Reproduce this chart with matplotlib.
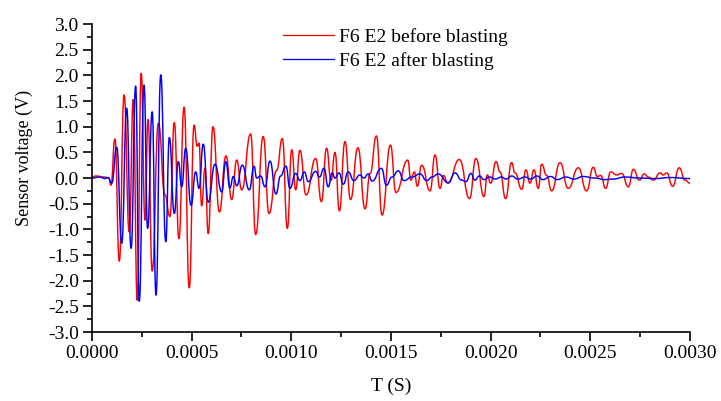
import matplotlib
matplotlib.use("Agg")
import matplotlib.pyplot as plt
from matplotlib.path import Path
from matplotlib.patches import PathPatch
from matplotlib.lines import Line2D
from matplotlib.ticker import MultipleLocator, FormatStrFormatter

plt.rcParams["font.family"] = ["Liberation Serif", "DejaVu Serif"]
plt.rcParams["axes.unicode_minus"] = False

# sensor F6 E2, before blasting (time in s, voltage in V) - turning points of the trace
t_before = [
    0.0, 0.00002, 0.00006, 0.000085, 0.000095, 0.000115, 0.000137, 0.000161,
    0.000187, 0.000207, 0.000227, 0.000247, 0.000266, 0.000281, 0.000302,
    0.000333, 0.000366, 0.000391, 0.000413, 0.000436, 0.000462, 0.000488,
    0.000512, 0.000528, 0.000537, 0.00055, 0.000567, 0.000583, 0.000607,
    0.000639, 0.000672, 0.000701, 0.000726, 0.000751, 0.000796, 0.000821,
    0.000859, 0.000888, 0.000926, 0.000955, 0.00098, 0.001002, 0.001022,
    0.001043, 0.001074, 0.001122, 0.001151, 0.001177, 0.001199, 0.001219,
    0.001241, 0.001269, 0.001297, 0.001334, 0.00137, 0.001395, 0.001427,
    0.001455, 0.001497, 0.001525, 0.001584, 0.0016, 0.001617, 0.001632,
    0.001654, 0.001696, 0.001721, 0.001746, 0.001763, 0.001785, 0.001843,
    0.001894, 0.001926, 0.001967, 0.001983, 0.002, 0.002027, 0.002047,
    0.002075, 0.002105, 0.002122, 0.002156, 0.002177, 0.002197, 0.002217,
    0.002239, 0.002256, 0.002281, 0.002306, 0.002348, 0.002389, 0.00244,
    0.002481, 0.002515, 0.002535, 0.002552, 0.002577, 0.002602, 0.002632,
    0.002657, 0.002691, 0.002716, 0.002746, 0.002771, 0.002791, 0.002816,
    0.00285, 0.002866, 0.002883, 0.002913, 0.002946, 0.002975, 0.003,
]
v_before = [
    0.02, 0.04, 0.02, 0.0, -0.14, 0.76, -1.62, 1.62,
    -1.05, 1.53, -2.38, 2.04, -0.82, 1.14, -1.81,
    1.07, -0.33, -0.75, 1.08, -1.18, 1.38, -2.14,
    1.03, 0.62, 0.68, -0.54, 0.19, -1.08, 1.0,
    -0.66, 0.43, -0.42, 0.35, -0.23, 0.86, -1.10,
    0.81, -0.69, 0.15, 0.77, -0.98, 0.55, -0.23,
    0.54, -0.33, 0.38, -0.46, 0.58, -0.05, 0.5,
    -0.64, 0.71, -0.42, 0.59, -0.6, 0.09, 0.82,
    -0.72, 0.64, -0.28, 0.35, -0.04, 0.12, -0.16,
    0.25, -0.25, 0.45, -0.2, 0.05, -0.1, 0.36,
    -0.40, 0.38, -0.36, 0.06, -0.1, 0.32, 0.12,
    -0.40, 0.30, 0.1, -0.22, 0.16, -0.1, 0.16,
    -0.2, 0.27, 0.05, -0.25, 0.30, -0.2, 0.2,
    -0.25, 0.21, 0.03, 0.05, -0.2, 0.12, 0.06,
    0.09, -0.17, 0.17, -0.04, 0.08, 0.02, -0.04,
    0.10, 0.06, 0.10, -0.16, 0.2, -0.04, -0.1,
]

# sensor F6 E2, after blasting
t_after = [
    0.0, 0.00004, 0.000065, 0.00008, 0.000099, 0.000124, 0.000149, 0.000174,
    0.000196, 0.000219, 0.000237, 0.000261, 0.000279, 0.000302, 0.000321,
    0.000345, 0.00037, 0.000388, 0.000413, 0.000433, 0.00045, 0.00047,
    0.000497, 0.00052, 0.000537, 0.000558, 0.000583, 0.000617, 0.000651,
    0.000671, 0.000692, 0.000709, 0.000726, 0.000754, 0.000789, 0.000813,
    0.000826, 0.000846, 0.000868, 0.000893, 0.000923, 0.000946, 0.000973,
    0.000993, 0.001022, 0.001043, 0.001065, 0.001085, 0.001122, 0.001141,
    0.001164, 0.001185, 0.001205, 0.001219, 0.001239, 0.001261, 0.001285,
    0.001314, 0.001344, 0.001364, 0.001386, 0.001405, 0.001452, 0.001477,
    0.001505, 0.001537, 0.001565, 0.001605, 0.001646, 0.001679, 0.001706,
    0.001737, 0.001787, 0.001821, 0.001854, 0.001876, 0.001901, 0.001921,
    0.001943, 0.001967, 0.001997, 0.002022, 0.002055, 0.002077, 0.002105,
    0.002137, 0.002172, 0.002202, 0.002232, 0.002262, 0.002301, 0.002333,
    0.002378, 0.002418, 0.002463, 0.002523, 0.002573, 0.002613, 0.002674,
    0.002749, 0.002824, 0.0029, 0.003,
]
v_after = [
    0.0, 0.02, -0.01, 0.01, -0.1, 0.6, -1.27, 1.36,
    -1.37, 1.79, -2.4, 1.81, -0.98, 1.29, -2.28,
    2.01, -1.24, 0.79, -0.69, 0.32, -0.17, 0.58,
    -0.53, 0.12, -0.2, 0.66, -0.47, 0.27, -0.27,
    0.32, -0.19, 0.03, -0.15, 0.25, -0.23, 0.23,
    0.0, 0.04, -0.17, 0.33, -0.31, 0.04, 0.23,
    -0.2, 0.09, -0.05, 0.12, -0.07, 0.13, 0.02,
    0.19, -0.17, 0.1, 0.0, 0.1, -0.12, 0.12,
    -0.05, 0.06, 0.0, 0.08, -0.06, 0.19, -0.14,
    0.02, 0.14, -0.05, 0.02, 0.08, -0.05, 0.02,
    0.08, -0.09, 0.1, -0.04, -0.07, 0.09, -0.04,
    0.04, -0.03, 0.02, -0.02, 0.02, -0.02, 0.04,
    -0.02, 0.02, -0.02, 0.04, -0.03, 0.03, -0.03,
    0.02, -0.02, 0.03, 0.0, -0.03, -0.02, 0.02,
    0.0, -0.01, 0.01, -0.01,
]


def wave_path(t, v):
    # cubic segments with flat tangents at every turning point
    verts = [(t[0], v[0])]
    codes = [Path.MOVETO]
    for i in range(1, len(t)):
        h = (t[i] - t[i - 1]) / 2
        verts += [(t[i - 1] + h, v[i - 1]), (t[i] - h, v[i]), (t[i], v[i])]
        codes += [Path.CURVE4] * 3
    return Path(verts, codes)


fig = plt.figure(figsize=(7.21, 4.01), dpi=100)
ax = fig.add_axes([0.1276, 0.172, 0.8294, 0.768])

red, blue = "#ff0000", "#0000ff"
for t, v, c in [(t_before, v_before, red), (t_after, v_after, blue)]:
    ax.add_patch(PathPatch(wave_path(t, v), facecolor="none", edgecolor=c,
                           lw=1.05, capstyle="round", joinstyle="round"))

ax.set_xlim(0, 0.003)
ax.set_ylim(-3.0, 3.0)
ax.xaxis.set_major_locator(MultipleLocator(0.0005))
ax.xaxis.set_minor_locator(MultipleLocator(0.00025))
ax.xaxis.set_major_formatter(FormatStrFormatter("%.4f"))
ax.yaxis.set_major_locator(MultipleLocator(0.5))
ax.yaxis.set_minor_locator(MultipleLocator(0.25))
ax.yaxis.set_major_formatter(FormatStrFormatter("%.1f"))

for side in ("top", "right"):
    ax.spines[side].set_visible(False)
for side in ("left", "bottom"):
    ax.spines[side].set_linewidth(1.2)

ax.tick_params(which="major", direction="out", length=6.5, width=1.2,
               labelsize=14, pad=3)
ax.tick_params(which="minor", direction="out", length=3.5, width=1.2)

ax.set_xlabel("T (S)", fontsize=14, labelpad=11)
ax.set_ylabel("Sensor voltage (V)", fontsize=13)
ax.yaxis.set_label_coords(-0.099, 0.565)

handles = [Line2D([], [], color=red, lw=0.9), Line2D([], [], color=blue, lw=0.9)]
ax.legend(handles, ["F6 E2 before blasting", "F6 E2 after blasting"],
          loc="upper left", bbox_to_anchor=(0.3925, 0.93),
          bbox_transform=fig.transFigure, frameon=False, fontsize=14,
          handlelength=2.6, handletextpad=0.3, labelspacing=0.3,
          borderpad=0, borderaxespad=0)

fig.savefig("out.png", dpi=100)
